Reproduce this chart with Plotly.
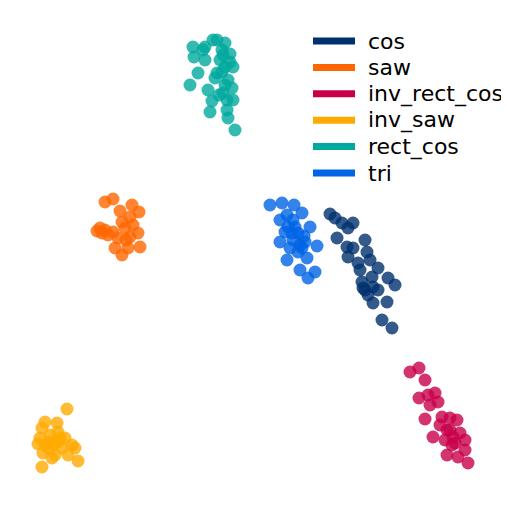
import plotly.graph_objects as go

# 2-D embedding coordinates per waveform class (arbitrary units)
labels = ['cos', 'saw', 'inv_rect_cos', 'inv_saw', 'rect_cos', 'tri']
colors = ['#00316e', '#ff6600', '#c8004a', '#ffaa00', '#00a99d', '#0064e6']

cos_x = [330, 335, 342, 353, 348, 337, 365, 347, 353, 367, 348, 370, 378, 360,
         372, 388, 395, 363, 373, 368, 387, 373, 382, 392, 365, 362, 358, 378]
cos_y = [295, 291, 286, 286, 281, 271, 269, 262, 261, 257, 252, 249, 241, 239,
         232, 231, 224, 221, 222, 214, 207, 206, 189, 181, 219, 227, 246, 219]

saw_x = [105, 113, 120, 132, 139, 100, 105, 113, 122, 130, 133, 138, 118, 130,
         115, 122, 128, 140, 102, 125, 97, 108, 126]
saw_y = [307, 310, 298, 304, 297, 281, 279, 277, 287, 292, 284, 276, 271, 272,
         261, 254, 261, 262, 276, 281, 278, 274, 269]

inv_rect_cos_x = [410, 419, 425, 419, 428, 435, 438, 430, 425, 442, 450, 457,
                  433, 447, 460, 465, 455, 445, 465, 447, 458, 468, 453, 450,
                  452, 440]
inv_rect_cos_y = [137, 141, 129, 111, 114, 116, 107, 104, 90, 92, 91, 89,
                  72, 79, 76, 69, 66, 69, 59, 54, 52, 46, 72, 79,
                  64, 84]

inv_saw_x = [67, 45, 57, 42, 40, 50, 58, 65, 45, 53, 62, 72, 75, 43, 55, 68,
             78, 42, 50, 58, 48, 60, 52, 38]
inv_saw_y = [100, 87, 86, 81, 71, 74, 77, 71, 64, 64, 61, 64, 61, 56, 54, 54,
             48, 42, 67, 67, 61, 71, 51, 65]

rect_cos_x = [217, 225, 193, 205, 203, 222, 230, 194, 205, 223, 220, 225, 233,
              198, 217, 215, 190, 208, 225, 232, 223, 233, 212, 227, 210, 227,
              228, 235, 222, 213, 228, 219, 230]
rect_cos_y = [469, 466, 462, 462, 459, 459, 455, 452, 449, 454, 449, 442, 442,
              436, 436, 431, 424, 419, 424, 421, 416, 409, 408, 409, 397, 399,
              391, 379, 437, 469, 429, 414, 447]

tri_x = [270, 282, 294, 302, 287, 280, 288, 295, 310, 285, 298, 280, 293, 305,
         317, 298, 287, 307, 300, 315, 308, 302, 292, 293, 300, 290, 304]
tri_y = [304, 306, 304, 296, 294, 289, 282, 282, 282, 277, 276, 267, 269, 267,
         263, 257, 249, 251, 239, 237, 231, 261, 276, 289, 264, 261, 273]

xs = [cos_x, saw_x, inv_rect_cos_x, inv_saw_x, rect_cos_x, tri_x]
ys = [cos_y, saw_y, inv_rect_cos_y, inv_saw_y, rect_cos_y, tri_y]

fig = go.Figure()

for name, color, x, y in zip(labels, colors, xs, ys):
    fig.add_trace(go.Scatter(
        x=x, y=y, mode='markers', name=name, showlegend=False,
        marker=dict(size=13, color=color, opacity=0.8, line=dict(width=0)),
    ))

# matplotlib-style legend: thick line swatch + label, top right
leg_x0, leg_x1, leg_text_x = 313, 355, 366
leg_top, leg_step = 468, 26.4
for i, (name, color) in enumerate(zip(labels, colors)):
    yy = leg_top - i * leg_step
    fig.add_shape(type='line', xref='x', yref='y',
                  x0=leg_x0, x1=leg_x1, y0=yy, y1=yy,
                  line=dict(color=color, width=7))
    fig.add_annotation(x=leg_text_x, y=yy, xref='x', yref='y', text=name,
                       showarrow=False, xanchor='left', yanchor='middle',
                       font=dict(family='DejaVu Sans', size=22, color='black'))

fig.update_layout(
    width=501, height=501,
    margin=dict(l=0, r=0, t=0, b=0),
    plot_bgcolor='white', paper_bgcolor='white',
    xaxis=dict(range=[8, 509], visible=False),
    yaxis=dict(range=[0, 501], visible=False),
    showlegend=False,
)

fig.write_html("out.html")
